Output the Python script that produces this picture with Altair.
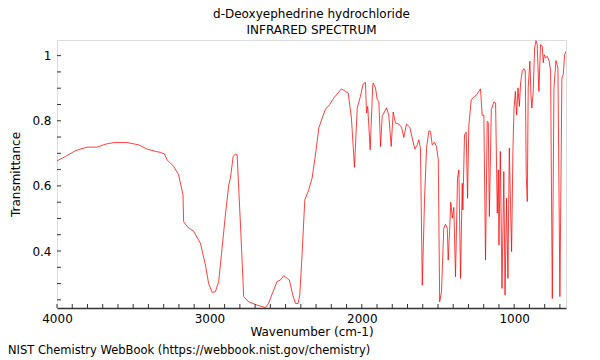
import altair as alt
import pandas as pd

# Spectrum (wavenumber in cm-1, transmittance)
wavenumber = [
    4000, 3945, 3880, 3803, 3737, 3683, 3628, 3540, 3464, 3409, 3355, 3322, 3295, 3278,
    3234, 3202, 3173, 3169, 3146, 3103, 3059, 3026, 3005, 2982, 2961, 2939, 2917, 2895,
    2873, 2862, 2844, 2829, 2818, 2796, 2775, 2742, 2687, 2632, 2611, 2600, 2556, 2534,
    2512, 2490, 2475, 2453, 2435, 2418, 2407, 2392, 2374, 2348, 2326, 2304, 2282, 2260,
    2238, 2212, 2184, 2162, 2133, 2107, 2089, 2068, 2048, 2030, 2009, 1991, 1976, 1969,
    1961, 1945, 1928, 1925, 1910, 1899, 1888, 1877, 1866, 1838, 1823, 1807, 1794, 1779,
    1757, 1739, 1724, 1707, 1685, 1669, 1652, 1636, 1626, 1615, 1603, 1588, 1575, 1560,
    1549, 1538, 1523, 1510, 1498, 1489, 1477, 1462, 1451, 1439, 1433, 1424, 1416, 1406,
    1396, 1385, 1372, 1363, 1352, 1341, 1337, 1326, 1315, 1306, 1298, 1282, 1265, 1243,
    1221, 1210, 1199, 1188, 1177, 1170, 1163, 1150, 1133, 1122, 1111, 1104, 1100, 1091,
    1080, 1068, 1060, 1050, 1041, 1032, 1024, 1017, 1008, 1001, 992, 984, 975, 966,
    958, 947, 936, 927, 921, 914, 908, 897, 890, 884, 875, 866, 857, 849,
    838, 827, 816, 809, 803, 794, 783, 770, 761, 750, 739, 726, 713, 700,
    687, 678, 669, 660,
]
transmittance = [
    0.677, 0.690, 0.708, 0.719, 0.719, 0.728, 0.733, 0.733, 0.726, 0.713, 0.706, 0.703, 0.698, 0.680,
    0.660, 0.634, 0.572, 0.490, 0.475, 0.460, 0.424, 0.357, 0.300, 0.273, 0.275, 0.306, 0.408, 0.511,
    0.603, 0.624, 0.690, 0.698, 0.695, 0.480, 0.260, 0.244, 0.234, 0.226, 0.240, 0.254, 0.306, 0.311,
    0.324, 0.316, 0.311, 0.265, 0.239, 0.239, 0.265, 0.388, 0.557, 0.588, 0.624, 0.695, 0.778, 0.808,
    0.836, 0.849, 0.870, 0.882, 0.898, 0.890, 0.885, 0.808, 0.657, 0.839, 0.875, 0.913, 0.918, 0.824,
    0.844, 0.711, 0.911, 0.916, 0.901, 0.865, 0.860, 0.721, 0.814, 0.839, 0.818, 0.721, 0.827, 0.793,
    0.790, 0.780, 0.749, 0.790, 0.780, 0.747, 0.713, 0.726, 0.742, 0.716, 0.295, 0.562, 0.716, 0.769,
    0.767, 0.726, 0.734, 0.721, 0.680, 0.244, 0.275, 0.470, 0.482, 0.470, 0.372, 0.460, 0.550, 0.501,
    0.534, 0.321, 0.624, 0.649, 0.316, 0.608, 0.526, 0.757, 0.765, 0.562, 0.783, 0.865, 0.872, 0.882,
    0.898, 0.817, 0.817, 0.372, 0.798, 0.795, 0.506, 0.834, 0.858, 0.854, 0.516, 0.649, 0.418, 0.706,
    0.285, 0.644, 0.265, 0.562, 0.316, 0.716, 0.542, 0.398, 0.716, 0.839, 0.890, 0.818, 0.901, 0.844,
    0.916, 0.952, 0.960, 0.952, 0.634, 0.552, 0.901, 0.983, 0.880, 0.839, 0.890, 1.024, 1.046, 1.034,
    0.890, 1.034, 1.029, 0.978, 1.003, 0.993, 0.998, 0.983, 0.952, 0.254, 0.901, 0.985, 0.962, 0.260,
    0.931, 0.942, 1.003, 1.013,
]

x_labels = [1000, 2000, 3000, 4000]
y_labels = [0.4, 0.6, 0.8, 1.0]
x_minor = list(range(700, 4001, 100))
y_minor = [0.25, 0.30, 0.35, 0.40, 0.45, 0.50, 0.55, 0.60, 0.65, 0.70, 0.75, 0.80, 0.85, 0.90, 0.95, 1.00]

title_lines = ["d-Deoxyephedrine hydrochloride", "INFRARED SPECTRUM"]
footer = "NIST Chemistry WebBook (https://webbook.nist.gov/chemistry)"

W, H = 509, 268
FONT = "DejaVu Sans"

xscale = alt.Scale(domain=[4000, 660], nice=False, zero=False)
yscale = alt.Scale(domain=[0.225, 1.048], nice=False, zero=False)

xaxis = alt.Axis(values=x_labels, format="d", ticks=False, grid=False,
                 domain=True, domainColor="#333333", domainWidth=1.5,
                 labelPadding=5, labelFontSize=12, labelFont=FONT,
                 labelFlush=False, labelOverlap=False,
                 labelColor="#000000", title="Wavenumber (cm-1)",
                 titleFont=FONT, titleFontSize=12, titleFontWeight="normal",
                 titleColor="#000000", titlePadding=2)
yaxis = alt.Axis(values=y_labels, format="~g", ticks=False, grid=False,
                 domain=False, labelPadding=6, labelFontSize=12,
                 labelFont=FONT, labelColor="#000000",
                 labelFlush=False, labelOverlap=False,
                 title="Transmittance", titleFont=FONT, titleFontSize=12,
                 titleFontWeight="normal", titleColor="#000000",
                 titlePadding=9)

spec = pd.DataFrame({"wn": wavenumber, "T": transmittance})

line = alt.Chart(spec).mark_line(
    color="#ff0000", strokeWidth=1, opacity=0.75, clip=True
).encode(
    x=alt.X("wn:Q", scale=xscale, axis=xaxis),
    y=alt.Y("T:Q", scale=yscale, axis=yaxis),
)

xt = alt.Chart(pd.DataFrame({"wn": x_minor})).mark_rule(
    color="#333333", strokeWidth=1
).encode(
    x=alt.X("wn:Q", scale=xscale, axis=xaxis),
    y=alt.value(H),
    y2=alt.value(H - 4),
)

yt = alt.Chart(pd.DataFrame({"T": y_minor})).mark_rule(
    color="#333333", strokeWidth=1
).encode(
    y=alt.Y("T:Q", scale=yscale, axis=yaxis),
    x=alt.value(0),
    x2=alt.value(4),
)

foot = alt.Chart(pd.DataFrame({"note": [footer]})).mark_text(
    align="left", baseline="middle", fontSize=11.5, font=FONT, color="#000000"
).encode(
    text="note:N",
    x=alt.value(-49),
    y=alt.value(H + 43),
)

chart = alt.layer(line, xt, yt, foot).properties(
    width=W,
    height=H,
    title=alt.TitleParams(text=title_lines, anchor="middle", fontSize=12,
                          font=FONT, fontWeight="normal", color="#000000",
                          offset=3, lineHeight=16),
    autosize=alt.AutoSizeParams(type="none"),
    padding={"left": 49, "top": 32, "right": 26, "bottom": 50},
).configure_view(
    stroke="#999999", strokeWidth=1.5
).configure(background="white")

chart.save("out.html", embed_options={"renderer": "svg", "actions": False})
